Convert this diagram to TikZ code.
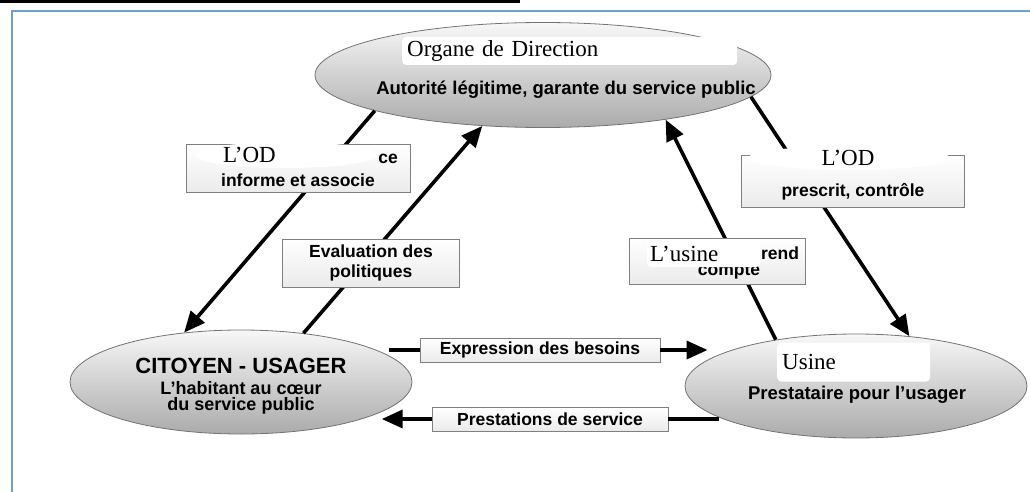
\documentclass[tikz,border=0pt]{standalone}
\usepackage{fontspec}
\setmainfont{Liberation Serif}
\setsansfont{Liberation Sans}
\usetikzlibrary{positioning,shapes.geometric,arrows.meta}
\definecolor{frameblue}{HTML}{6A9FD8}

\begin{document}
\begin{tikzpicture}[x=1pt,y=-1pt,
	ovalnode/.style={ellipse,draw=black!55,line width=0.8pt,top color=black!3,bottom color=black!33,inner sep=0pt},
	labelbox/.style={rectangle,draw=black!50,line width=0.8pt,top color=white,bottom color=black!8,inner sep=0pt,align=center,font=\sffamily\bfseries\fontsize{17.5}{20}\selectfont},
	boxtext/.style={inner sep=0pt,font=\sffamily\bfseries\fontsize{17.5}{20}\selectfont},
	ovaltext/.style={inner sep=0pt,align=center,font=\sffamily\bfseries\fontsize{18.5}{16}\selectfont},
	coverbox/.style={rectangle,rounded corners=4pt,fill=white,inner xsep=5pt,inner ysep=0pt,align=left,font=\fontsize{23}{26}\selectfont},
	coveroval/.style={ellipse,fill=white,inner sep=0pt},
	covertext/.style={inner sep=0pt,font=\fontsize{23}{26}\selectfont},
	arr/.style={line width=3.6pt,-{Triangle[length=21pt,width=18pt]}},
	plainline/.style={line width=3.6pt}]
		\useasboundingbox (0,0) rectangle (1030,492);
		\draw[line width=3pt] (0,1.5) -- (520,1.5);
		\draw[frameblue,line width=2pt] (1030,11) -- (11.5,11) -- (11.5,492);

		\node[ovalnode,minimum width=456pt,minimum height=105pt]				(od)		at (543,75)		{};
		\node[ovalnode,minimum width=342pt,minimum height=104pt]				(cit)		at (241,382)	{};
		\node[ovalnode,minimum width=342pt,minimum height=104pt]				(us)		at (856,386)	{};

		\node[ovaltext]														(odsub)		at (566,90)		{Autorité légitime, garante du service public};
		\node[ovaltext,font=\sffamily\bfseries\fontsize{22}{24}\selectfont]	(cittitle)	at (241,366)	{CITOYEN - USAGER};
		\node[ovaltext,font=\sffamily\bfseries\fontsize{18}{16}\selectfont]	(citsub)	at (241,398)	{L’habitant au cœur\\du service public};
		\node[ovaltext]														(ussub)		at (857,395)	{Prestataire pour l’usager};

		\draw[arr] (od.192) -- (cit.139);
		\draw[arr] (cit.38) -- (od.220);
		\draw[arr] (us.150) -- (od.-20);
		\draw[arr] (od.-6) -- (us.43);

		\node[labelbox,minimum width=224pt,minimum height=48pt]				(infbox)	at (298,168)	{};
		\node[boxtext]														(inftxt)	at (298,180)	{informe et associe};
		\node[boxtext]														(infce)		at (388,159)	{ce};
		\node[coveroval,minimum width=182pt,minimum height=26pt]				(infcov)	at (286,155)	{};
		\node[covertext,right=28pt of infcov.west]							(infod)					{L’OD};

		\node[labelbox,minimum width=223pt,minimum height=52pt]				(prsbox)	at (853,181)	{};
		\node[boxtext]														(prstxt)	at (853,192)	{prescrit, contrôle};
		\node[coveroval,minimum width=202pt,minimum height=24pt]				(prscov)	at (849,158)	{};
		\node[covertext]													(prsod)		at (848,158)	{L’OD};

		\node[labelbox,minimum width=177pt,minimum height=48pt]				(evabox)	at (371,263)	{Evaluation des\\politiques};

		\node[labelbox,minimum width=176pt,minimum height=46pt]				(rdbox)		at (717,261)	{};
		\node[boxtext]														(rdcpt)		at (729,272)	{compte};
		\node[boxtext]														(rdrend)	at (780,253)	{rend};
		\node[coverbox,anchor=west,text width=107pt,inner xsep=3pt,minimum height=26pt]	(rdcov)	at (647,254)	{L’usine};

		\node[labelbox,minimum width=240pt,minimum height=24pt]				(expr)		at (540,350)	{Expression des besoins};
		\node[labelbox,minimum width=236pt,minimum height=24pt]				(prest)		at (550,419)	{Prestations de service};

		\draw[plainline] (cit.10 |- expr.west) -- (expr.west);
		\draw[arr] (expr.east) -- (expr.east -| us.170);
		\draw[plainline] (prest.east -| us.193) -- (prest.east);
		\draw[arr] (prest.west) -- (prest.west -| cit.-12);

		\node[coverbox,anchor=west,text width=325pt,minimum height=28pt]		(odname)	at (402,51)		{Organe de Direction};
		\node[coverbox,anchor=west,text width=143pt,minimum height=39pt]		(usname)	at (777,362)	{Usine};
	\end{tikzpicture}
\end{document}
